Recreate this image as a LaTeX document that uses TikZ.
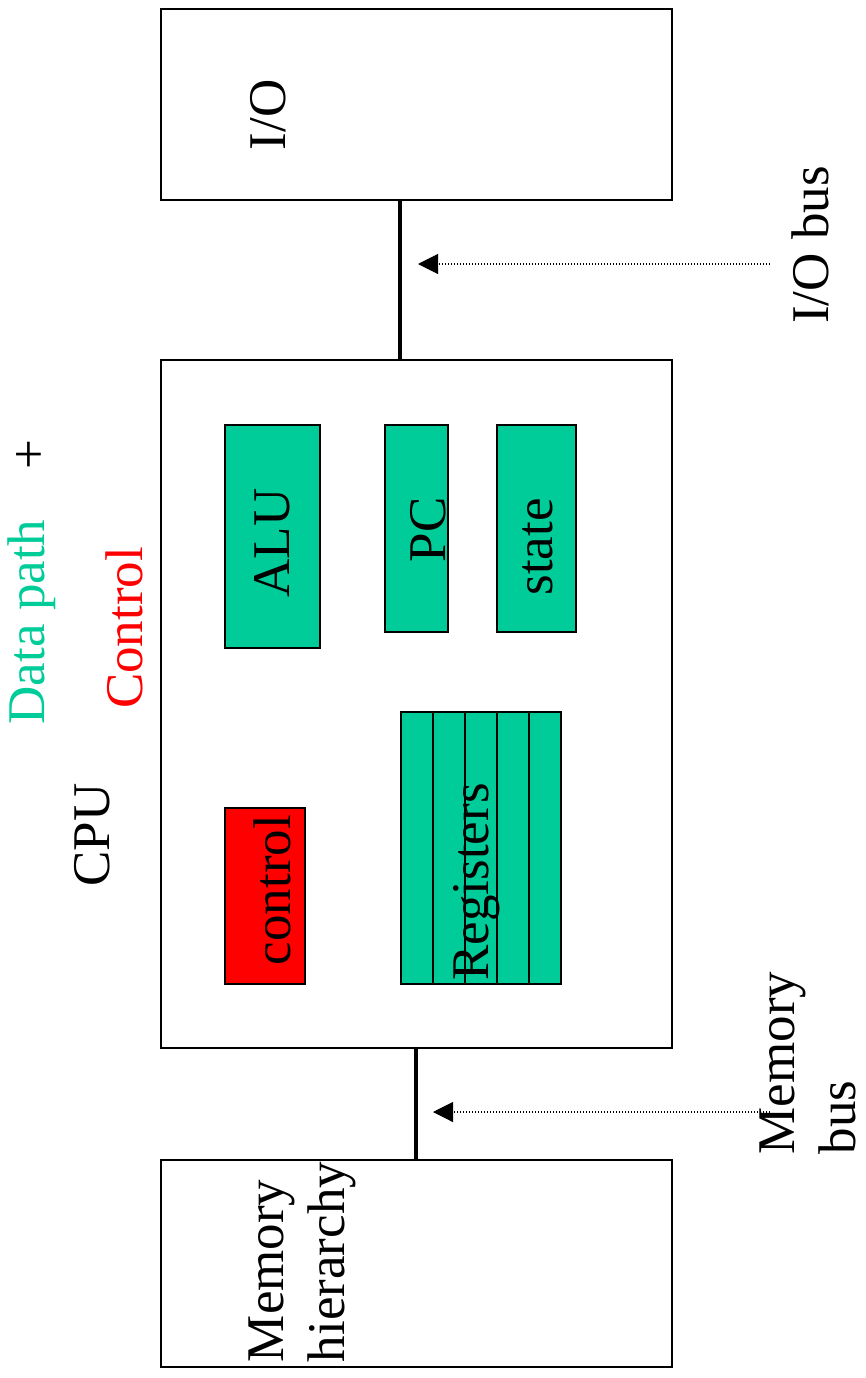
\documentclass[tikz,border=0pt]{standalone}
\usepackage{fontspec}
\setmainfont{Liberation Serif}
\usetikzlibrary{arrows.meta}
\definecolor{dgreen}{RGB}{0,204,153}
\definecolor{cred}{RGB}{255,0,0}
\begin{document}
\begin{tikzpicture}[x=1pt,y=-1pt,
  box/.style={draw=black,line width=1.4pt,fill=white},
  gbox/.style={draw=black,line width=1.4pt,fill=dgreen},
  rbox/.style={draw=black,line width=1.4pt,fill=cred},
  lbl/.style={rotate=90,inner sep=0pt,font=\fontsize{53}{61}\selectfont},
  bus/.style={line width=4.5pt},
  ptr/.style={line width=1.1pt,dash pattern=on 1.1pt off 1.9pt,-{Triangle[length=20pt,width=20pt]}}]
\useasboundingbox (0,0) rectangle (865,1378);
% boxes
\draw[box] (161,9) rectangle (672,200);
\node (io) at (416.5,104.5) [minimum width=511pt,minimum height=191pt,inner sep=0pt] {};
\draw[box] (161,360) rectangle (672,1048);
\node (cpu) at (416.5,704) [minimum width=511pt,minimum height=688pt,inner sep=0pt] {};
\draw[box] (161,1160) rectangle (672,1367);
\node (mem) at (416.5,1263.5) [minimum width=511pt,minimum height=207pt,inner sep=0pt] {};
% inner boxes
\draw[gbox] (225,425) rectangle (320,648);
\draw[gbox] (385,425) rectangle (448,632);
\draw[gbox] (497,425) rectangle (576,632);
\draw[gbox] (401,712) rectangle (561,984);
\foreach \xx in {433,465,497,529} \draw[line width=1.4pt] (\xx,712) -- (\xx,984);
\draw[rbox] (225,808) rectangle (305,984);
% labels
\node[lbl] (iol) at (268,115) {I/O};
\node[lbl] (alul) at (272,543) {ALU};
\node[lbl] (pcl) at (428,530) {PC};
\node[lbl] (statel) at (538,547) {state};
\node[lbl] (regl) at (477,882) {Registers};
\node[lbl] (ctll) at (272,890) {control};
\node[lbl,align=left] (meml) at (302,1262) {Memory\\hierarchy};
\node[lbl] (iobl) at (810,245) {I/O bus};
\node[lbl,align=left] (mbl) at (808,1063) {Memory\\bus};
\node[lbl,text=dgreen] (dpl) at (32,622) {Data path};
\node[lbl] (plus) at (32,455) {+};
\node[lbl,text=cred] (cl) at (124,628) {Control};
\node[lbl] (cpul) at (92,835) {CPU};
% buses
\coordinate (iobx) at (400,0);
\coordinate (mbx) at (416,0);
\draw[bus] (io.south -| iobx) -- (cpu.north -| iobx);
\draw[bus] (cpu.south -| mbx) -- (mem.north -| mbx);
% pointers
\coordinate (iot) at (770,264);
\coordinate (ioh) at (418,264);
\draw[ptr] (iot) -- (ioh);
\coordinate (mt) at (770,1112);
\coordinate (mh) at (433,1112);
\draw[ptr] (mt) -- (mh);
\end{tikzpicture}
\end{document}
